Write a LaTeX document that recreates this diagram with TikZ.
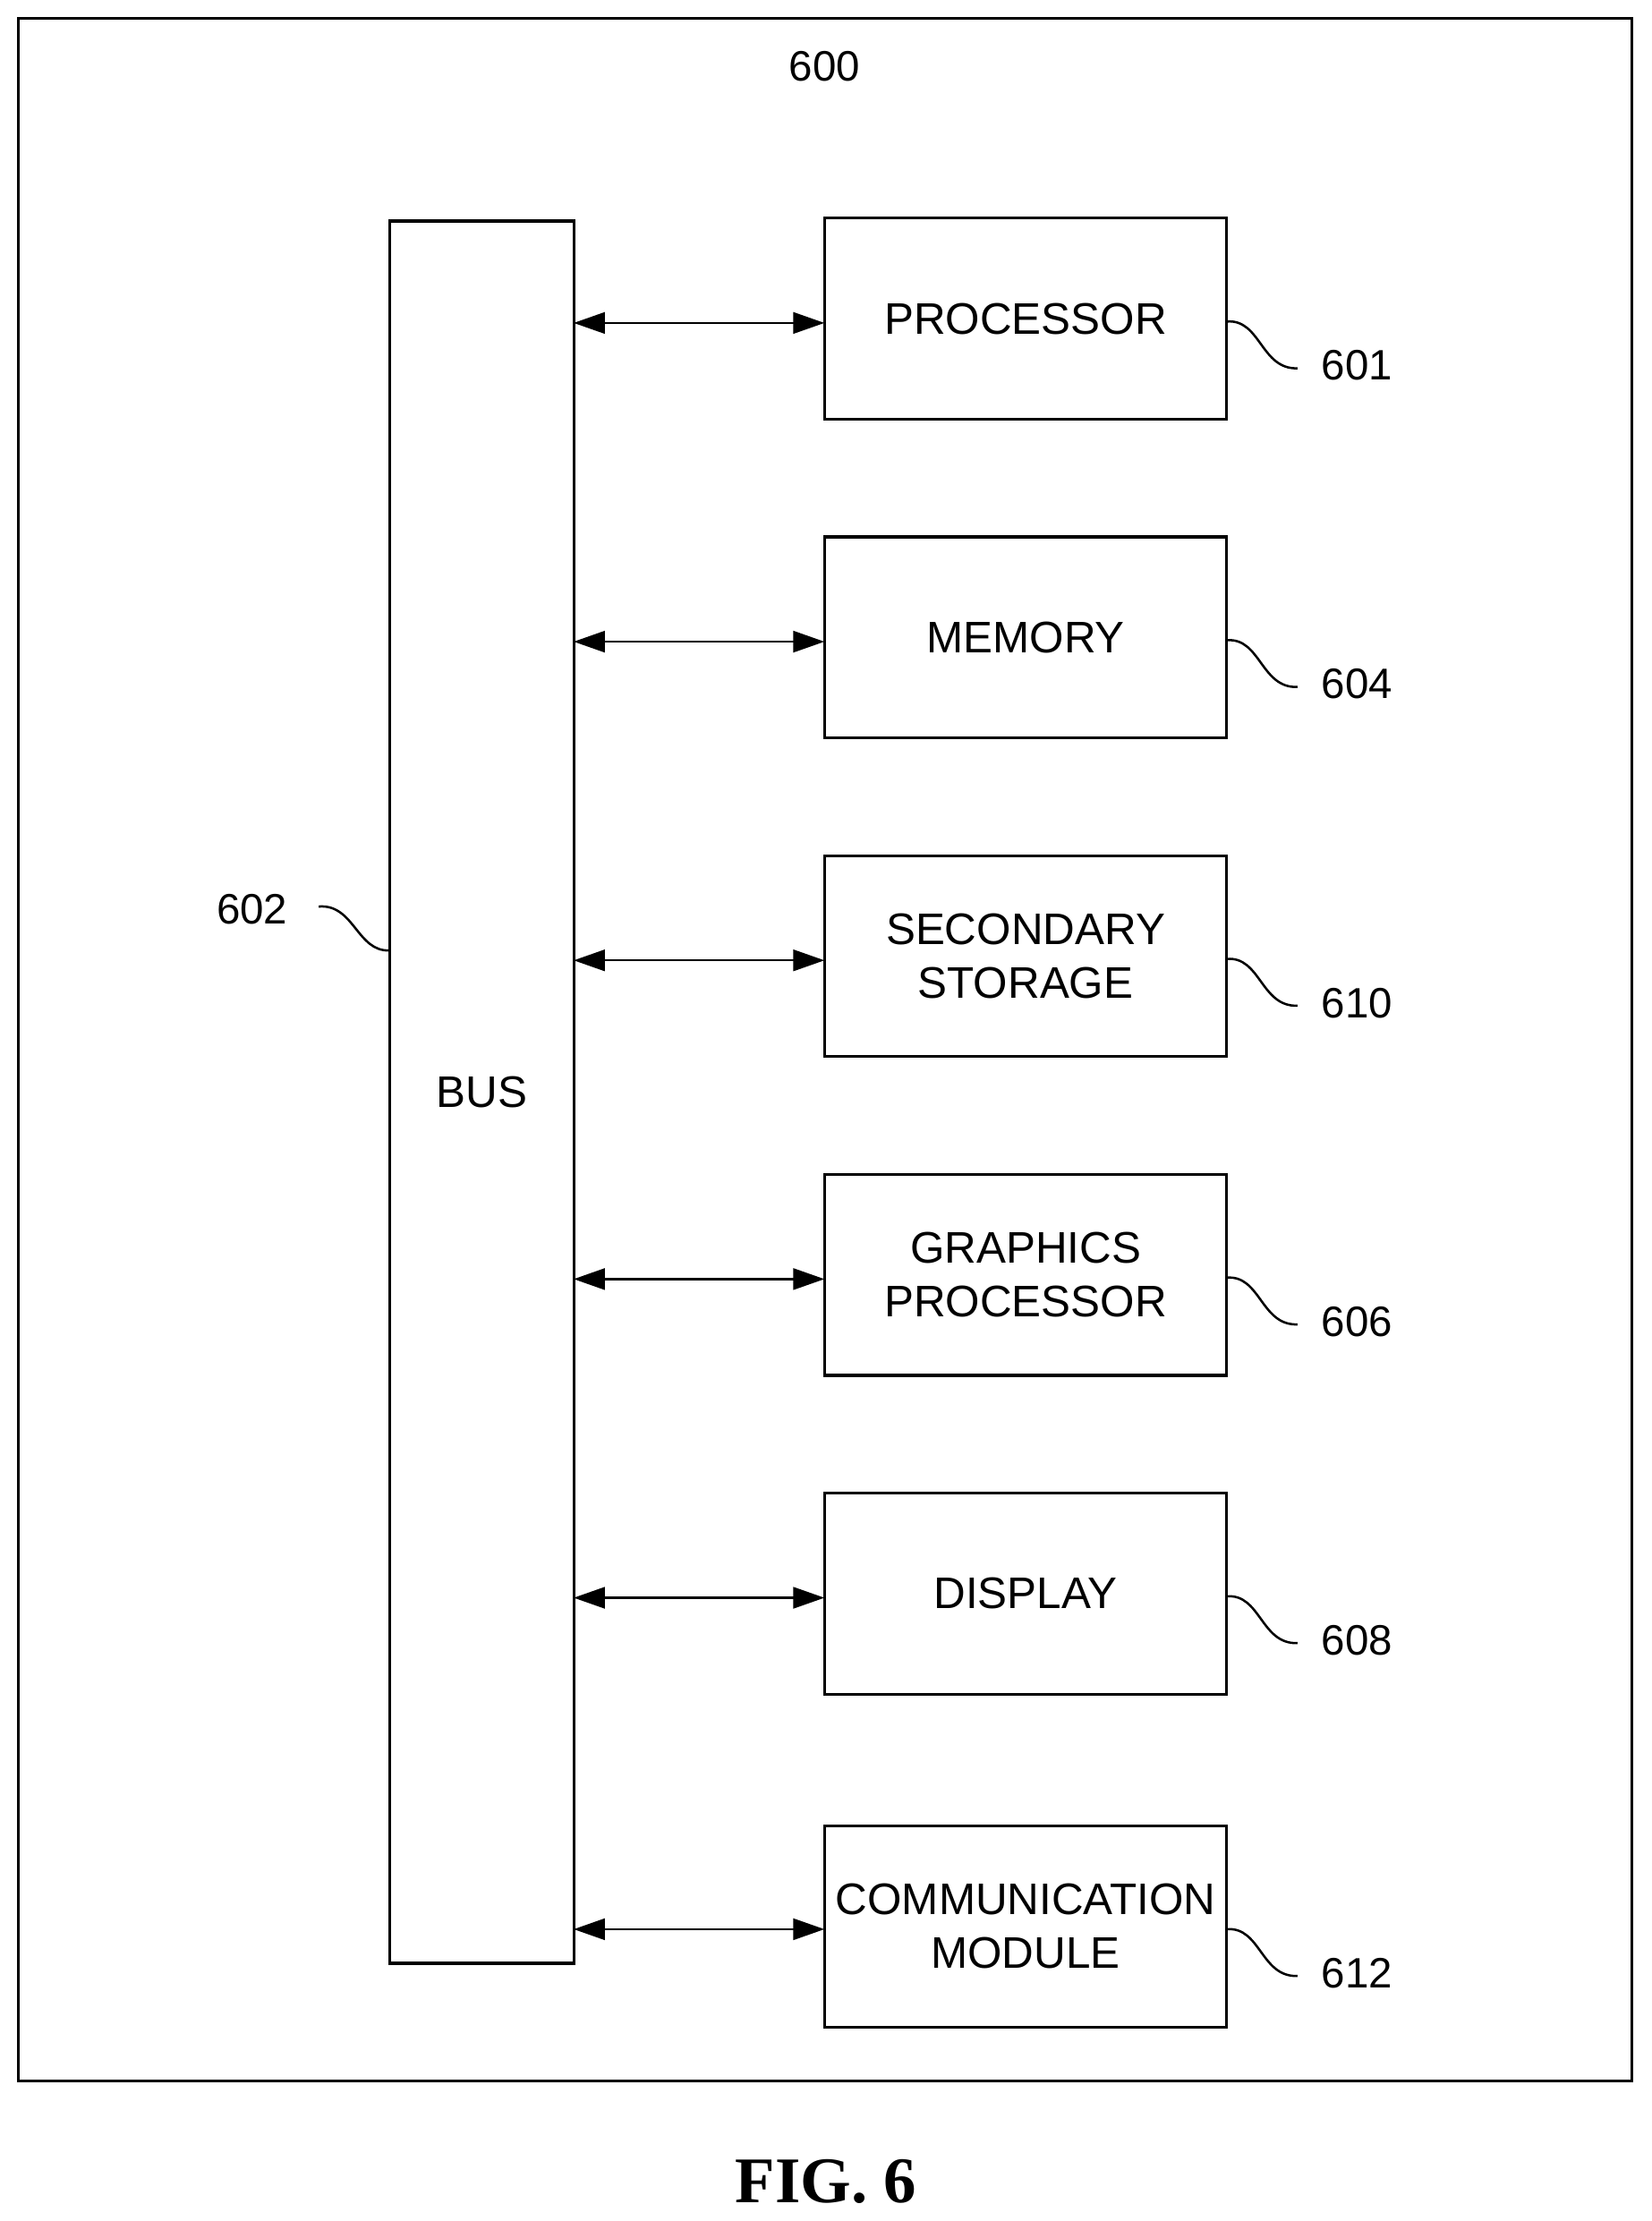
\documentclass[tikz,border=0pt]{standalone}
\usepackage{fontspec}
\setmainfont{Liberation Sans}
\newfontfamily\serifb{Liberation Serif}
\usetikzlibrary{arrows.meta}
\begin{document}
\begin{tikzpicture}[x=0.5pt,y=-0.5pt,
  box/.style={draw,line width=1pt,minimum width=142pt,minimum height=71pt,align=center,font=\fontsize{15.6}{19}\selectfont,inner sep=0pt},
  conn/.style={line width=0.8pt,{Triangle[length=11pt,width=7.5pt]}-{Triangle[length=11pt,width=7.5pt]}},
  lbl/.style={font=\fontsize{15}{17}\selectfont},
  sq/.style={line width=0.8pt}]
\useasboundingbox (0,0) rectangle (1166,1568);
\draw[line width=1pt] (13,13) rectangle (1152,1469);
\node[lbl] (l600) at (582,47) {600};
\node[draw,line width=1pt,minimum width=65pt,minimum height=615pt,inner sep=0pt,font=\fontsize{15.6}{19}\selectfont] (bus) at (340,771) {BUS};
\node[lbl] (l602) at (178,642) {602};
\coordinate (s602) at (225,640);
\draw[sq] (s602) .. controls (250,638) and (252,672) .. (275,671);
\foreach \n/\t/\y/\ay/\num in {p/PROCESSOR/227/228/601, m/MEMORY/452/453/604, s/SECONDARY\\STORAGE/677/678/610, g/GRAPHICS\\PROCESSOR/902/903/606, d/DISPLAY/1127/1128/608, c/COMMUNICATION\\MODULE/1362/1362/612}{
  \node[box] (\n) at (724,\y-2) {\t};
  \coordinate (b\n) at (405,\ay);
  \coordinate (e\n) at (582,\ay);
  \draw[conn] (b\n) -- (e\n);
  \node[lbl] (l\n) at (958,\y+31) {\num};
  \coordinate (t\n) at (916,\y+33);
  \draw[sq] (866,\y) .. controls (890,\y-2) and (890,\y+34) .. (t\n);
}
\node[font=\serifb\bfseries\fontsize{23}{26}\selectfont] (fig) at (583,1540) {FIG. 6};
\end{tikzpicture}
\end{document}
